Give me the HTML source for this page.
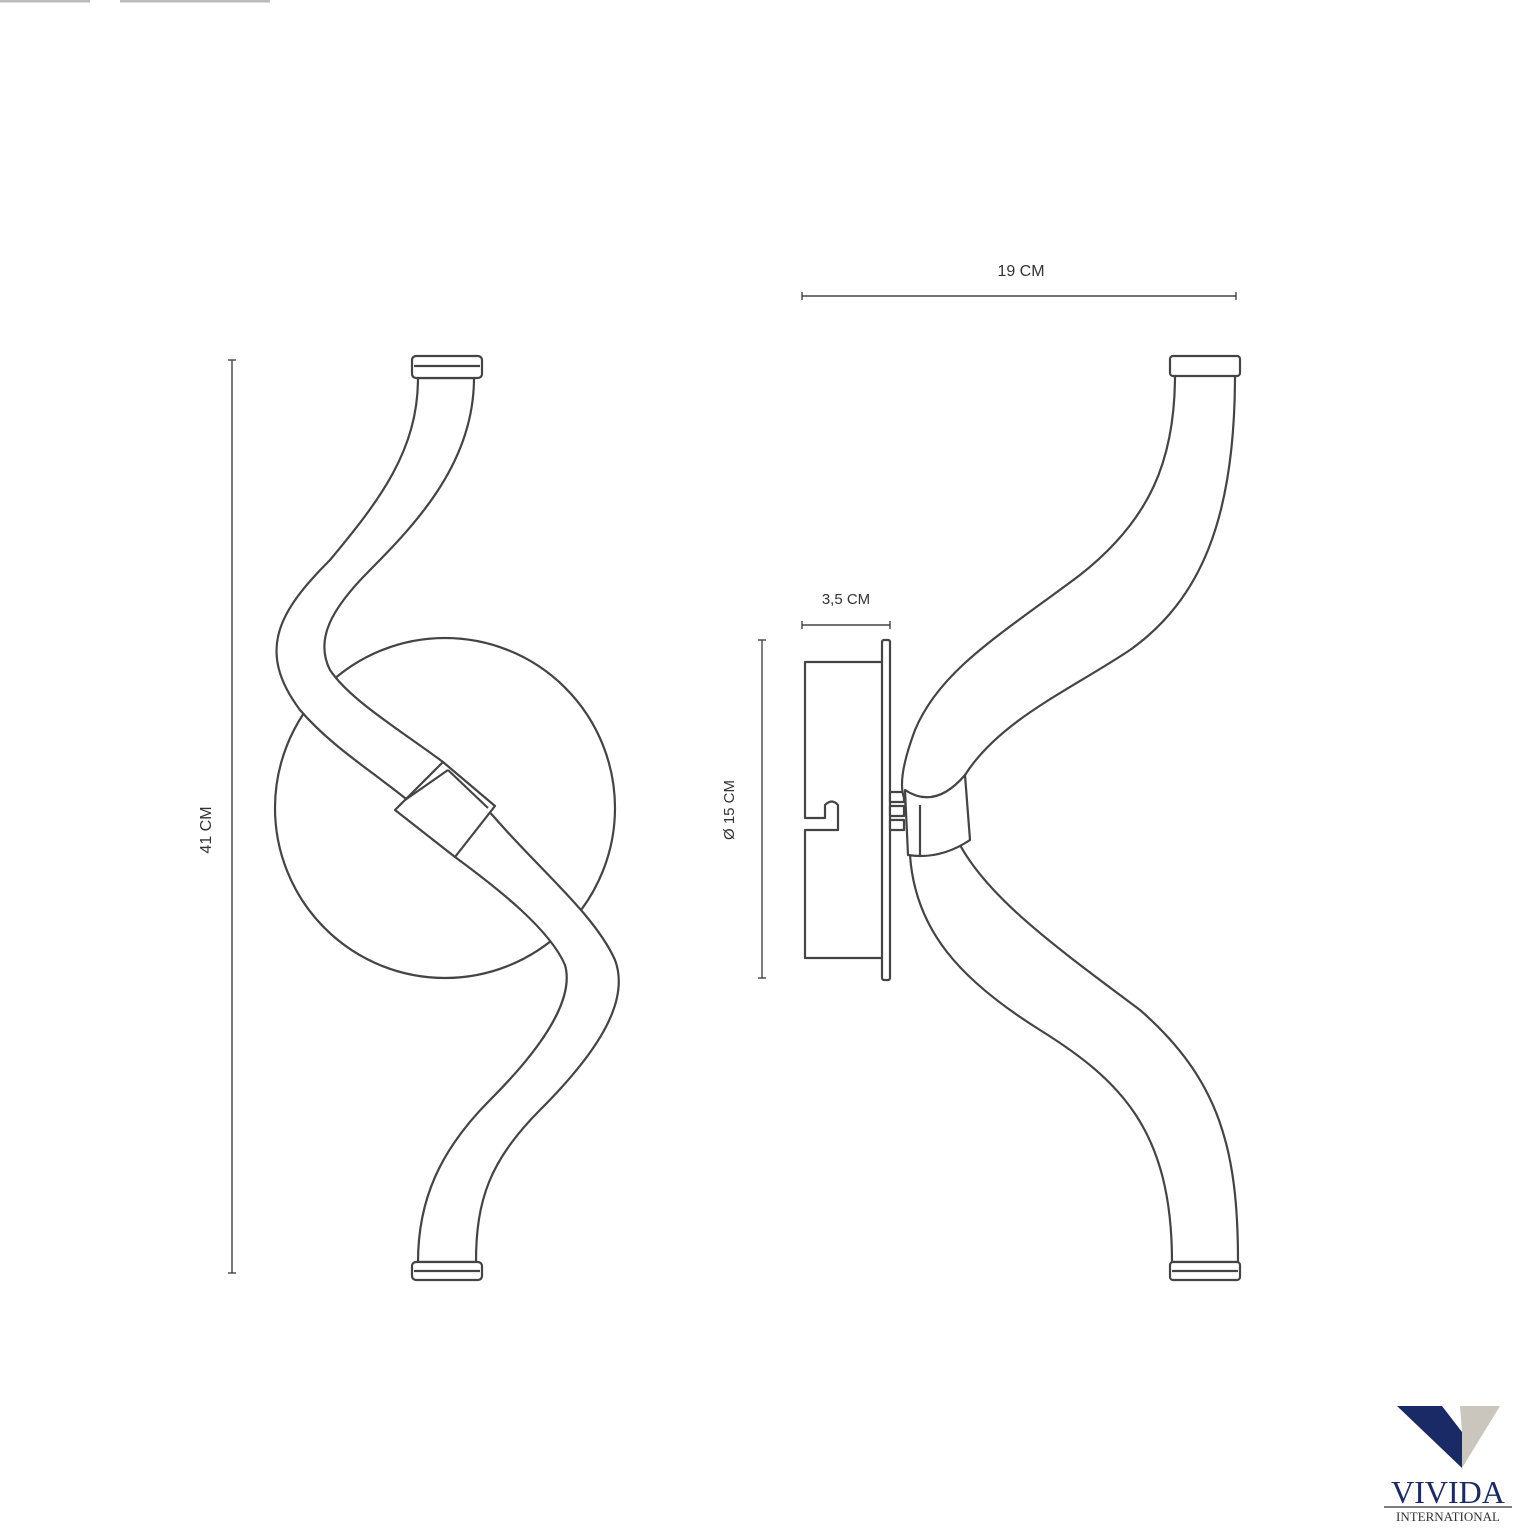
<!DOCTYPE html>
<html><head><meta charset="utf-8"><style>
html,body{margin:0;padding:0;background:#fff;}
svg{display:block}
text{font-family:"Liberation Sans",sans-serif;fill:#333}
text.serif{font-family:"Liberation Serif",serif}
</style></head><body>
<svg width="1540" height="1540" viewBox="0 0 1540 1540">
<g stroke="#bbb" stroke-width="3"><line x1="0" y1="1" x2="90" y2="1"/><line x1="120" y1="1" x2="270" y2="1"/></g>
<g fill="none" stroke="#444" stroke-width="1.4">
<line x1="232" y1="360" x2="232" y2="1273"/><line x1="228" y1="360" x2="236" y2="360"/><line x1="228" y1="1273" x2="236" y2="1273"/>
<line x1="802" y1="296" x2="1236" y2="296"/><line x1="802" y1="292" x2="802" y2="300"/><line x1="1236" y1="292" x2="1236" y2="300"/>
<line x1="802" y1="625" x2="890" y2="625"/><line x1="802" y1="621" x2="802" y2="629"/><line x1="890" y1="621" x2="890" y2="629"/>
<line x1="762" y1="640" x2="762" y2="978"/><line x1="758" y1="640" x2="766" y2="640"/><line x1="758" y1="978" x2="766" y2="978"/>
</g>
<text x="1021" y="276" font-size="16" text-anchor="middle">19 CM</text>
<text x="846" y="604" font-size="15" text-anchor="middle">3,5 CM</text>
<text x="0" y="0" font-size="16" text-anchor="middle" transform="translate(211,830) rotate(-90)">41 CM</text>
<text x="0" y="0" font-size="15" text-anchor="middle" transform="translate(734,810) rotate(-90)">Ø 15 CM</text>

<g fill="#fff" stroke="#444" stroke-width="2.2" stroke-linejoin="round">
<circle cx="445" cy="808" r="170"/>
<path d="M418,378 C418,450 380,500 330,560 C280,610 255,650 300,710 C330,745 370,770 405,798 L455,857 C500,890 550,930 565,965 C575,1000 540,1050 490,1100 C440,1150 418,1200 418,1262 L476,1262 C476,1200 490,1160 540,1110 C600,1050 630,1000 615,960 C595,915 540,870 495,818 L443,762 C400,730 350,700 330,670 C315,640 330,610 370,570 C420,520 474,460 474,378 Z"/>
<path d="M395,810 L443,762 L495,806 L455,857 Z"/>
<line x1="405" y1="800" x2="448" y2="770"/><line x1="448" y1="770" x2="488" y2="808"/>
<rect x="412" y="356" width="70" height="22" rx="4"/>
<line x1="414" y1="366" x2="480" y2="366"/>
<rect x="412" y="1262" width="70" height="18" rx="4"/>
<line x1="414" y1="1271" x2="480" y2="1271"/>

<path d="M890,662 L805,662 L805,818 L825,818 L825,805 Q832,798 838,805 L838,830 L805,830 L805,958 L890,958"/>
<rect x="882" y="640" width="8" height="340" rx="2"/>
<rect x="890" y="792" width="14" height="10"/><rect x="890" y="806" width="14" height="10"/><rect x="890" y="820" width="14" height="10"/>
<path d="M1175,375 C1175,460 1150,520 1080,575 C1000,635 940,670 915,730 C900,770 900,790 905,800 L910,855 C915,930 960,980 1040,1030 C1120,1080 1172,1130 1172,1262 L1238,1262 C1238,1150 1220,1080 1140,1010 C1060,950 990,900 960,845 L965,775 C1000,720 1070,690 1130,650 C1200,600 1235,520 1235,375 Z"/>
<path d="M905,790 Q935,810 965,775 L970,840 Q940,860 908,855 Z"/>
<line x1="920" y1="805" x2="920" y2="855"/>
<rect x="1170" y="356" width="70" height="20" rx="3"/>
<rect x="1170" y="1262" width="70" height="18" rx="3"/>
<line x1="1172" y1="1271" x2="1238" y2="1271"/>
</g>

<polygon points="1397,1406 1442,1406 1462,1432 1462,1468" fill="#1a2a66"/>
<polygon points="1460,1406 1500,1406 1462,1468 1462,1432" fill="#cbc6bd"/>
<text class="serif" x="1448" y="1503" font-size="32" text-anchor="middle" style="fill:#1a2a66">VIVIDA</text>
<line x1="1384" y1="1507" x2="1512" y2="1507" stroke="#555" stroke-width="1.5"/>
<text class="serif" x="1448" y="1521" font-size="13" text-anchor="middle" style="fill:#333">INTERNATIONAL</text>
</svg>
</body></html>
